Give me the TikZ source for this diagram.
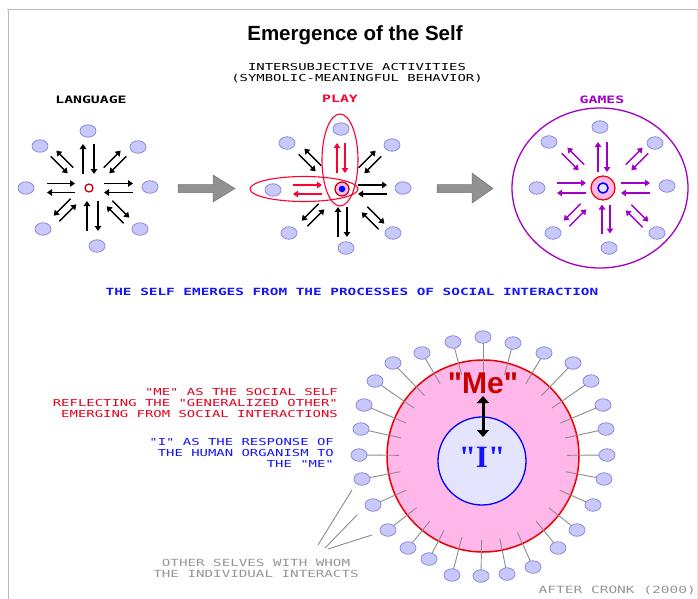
\documentclass[tikz,border=0pt]{standalone}
\usepackage{fontspec}
\setmainfont{Liberation Sans}
\newfontfamily\mefont[Ligatures=TeXOff]{Liberation Sans}
\newfontfamily\pixfont[FakeStretch=1.45,Ligatures=TeXOff]{DejaVu Sans Mono}
\newfontfamily\serifb[Ligatures=TeXOff]{Liberation Serif}
\usetikzlibrary{arrows.meta,calc,shapes.geometric}
\definecolor{satfill}{RGB}{200,200,250}
\definecolor{satdraw}{RGB}{140,140,220}
\definecolor{txtred}{RGB}{230,0,30}
\definecolor{playred}{RGB}{255,0,50}
\definecolor{txtblue}{RGB}{20,20,255}
\definecolor{txtgray}{RGB}{150,150,150}
\definecolor{gamepurple}{RGB}{160,0,200}
\definecolor{pinkfill}{RGB}{255,182,232}
\definecolor{ifill}{RGB}{228,228,255}
\definecolor{mered}{RGB}{200,0,0}
\definecolor{circred}{RGB}{235,0,0}
\definecolor{arrowgray}{RGB}{145,145,145}
\definecolor{linegray}{RGB}{140,140,140}
\tikzset{
  sat/.style={ellipse,minimum width=16pt,minimum height=12.5pt,inner sep=0pt,fill=satfill,draw=satdraw,line width=0.8pt},
  pa/.style={line width=1.6pt,-{Triangle[length=5pt,width=6.5pt]}},
  pd/.style={line width=1.3pt,-{Triangle[length=5pt,width=6.5pt]}},
  pixel/.style={font=\pixfont\fontsize{9.6}{11}\selectfont,align=center,inner sep=0pt},
  pixelb/.style={font=\pixfont\bfseries\fontsize{10.2}{11}\selectfont,align=center,inner sep=0pt},
  satline/.style={linegray,line width=0.9pt},
  bigarrow/.style={fill=arrowgray,draw=arrowgray!80!black,line width=0.5pt}
}
\newcommand\apair[6]{%
  \begin{scope}[shift={(#1,#2)},rotate=#3]
    \draw[#6] (-#4,{-(#5)}) -- (#4,{-(#5)});
    \draw[#6] (#4,{#5}) -- (-#4,{#5});
  \end{scope}}
\begin{document}
\begin{tikzpicture}[x=1pt,y=-1pt]
\useasboundingbox (0,0) rectangle (698,599);
\fill[white] (0,0) rectangle (698,599);
% frame
\draw[gray!55,line width=1.6pt] (7,9.5) -- (697,9.5);
\draw[gray!55,line width=1.6pt] (8.5,9.5) -- (8.5,599);
\draw[gray!20,line width=0.8pt] (697,9.5) -- (697,599);

% titles
\node[font=\bfseries\fontsize{20.5}{22}\selectfont] (title) at (355,35) {Emergence of the Self};
\node[pixel] (inter) at (357,73.5) {INTERSUBJECTIVE ACTIVITIES\\(SYMBOLIC-MEANINGFUL BEHAVIOR)};
\node[pixelb] (lang) at (91,100) {LANGUAGE};
\node[pixelb,text=playred] (play) at (340,99) {PLAY};
\node[pixelb,text=gamepurple] (games) at (602,100) {GAMES};

% ---------- LANGUAGE cluster ----------
\foreach \n/\x/\y in {l1/88/131,l2/40/146,l3/138/147,l4/26/188,l5/150/187,l6/43/229,l7/140/229,l8/97/246}
  \node[sat] (\n) at (\x,\y) {};
\node[circle,draw=mered,fill=white,line width=1.3pt,minimum size=8pt,inner sep=0pt] (lc) at (89,188) {};
\apair{61}{188}{0}{14}{4.5}{pa}
\apair{118.5}{188}{0}{14.5}{4.5}{pa}
\apair{88.5}{159}{90}{15}{5.5}{pa}
\apair{92.5}{216}{90}{15}{5.5}{pa}
\apair{62}{162}{135}{12}{-4}{pd}
\apair{115}{162}{45}{12}{4}{pd}
\apair{65}{210}{45}{12}{-4}{pd}
\apair{118}{212}{135}{12}{4}{pd}

% big arrow 1
\draw[bigarrow] (178,184.5) -- (213,184.5) -- (213,175) -- (235,188.5) -- (213,202) -- (213,192.5) -- (178,192.5) -- cycle;

% ---------- PLAY cluster ----------
\foreach \n/\x/\y in {p1/341/129,p2/287/143,p3/392/145,p4/273/190,p5/403/188,p6/289/233,p7/393/233,p8/346/248}
  \node[sat] (\n) at (\x,\y) {};
\draw[playred,line width=1.1pt] (340,160) ellipse [x radius=18pt,y radius=46pt];
\draw[playred,line width=1.1pt] (304,189) ellipse [x radius=54pt,y radius=12.5pt];
\apair{341}{158}{90}{15}{4}{pa,playred}
\apair{307.5}{189.5}{0}{14.5}{4.5}{pa,playred}
\apair{372.5}{189.5}{0}{14.5}{4.5}{pa}
\apair{342.5}{222}{90}{15}{4.5}{pa}
\apair{310}{160}{135}{12}{-4}{pd}
\apair{370}{162}{45}{12}{4}{pd}
\apair{313}{215}{45}{12}{-4}{pd}
\apair{373}{218}{135}{12}{4}{pd}
\node[circle,draw=red!75!black,fill=pinkfill,line width=1.2pt,minimum size=14pt,inner sep=0pt] (pc) at (342,189) {};
\node[circle,fill=blue,minimum size=6.5pt,inner sep=0pt] (pcin) at (342,189) {};

% big arrow 2
\draw[bigarrow] (437,184.5) -- (472,184.5) -- (472,173) -- (493,188.5) -- (472,203) -- (472,192.5) -- (437,192.5) -- cycle;

% ---------- GAMES cluster ----------
\draw[gamepurple,line width=1.3pt] (600,188) ellipse [x radius=88pt,y radius=80pt];
\foreach \n/\x/\y in {g1/600/127,g2/549/142,g3/655/143,g4/537/188,g5/667/186,g6/553/233,g7/657/233,g8/609/248}
  \node[sat] (\n) at (\x,\y) {};
\apair{602.5}{157}{90}{15}{4.5}{pa,gamepurple}
\apair{571.5}{188}{0}{14.5}{5}{pa,gamepurple}
\apair{635.5}{188}{0}{14.5}{5}{pa,gamepurple}
\apair{606}{219}{90}{14.5}{4}{pa,gamepurple}
\apair{573}{159}{135}{12}{-4}{pd,gamepurple}
\apair{637}{159}{45}{12}{4}{pd,gamepurple}
\apair{575}{215}{45}{12}{-4}{pd,gamepurple}
\apair{637}{216}{135}{12}{4}{pd,gamepurple}
\node[circle,draw=circred,fill=pinkfill,line width=1.2pt,minimum size=24pt,inner sep=0pt] (gc) at (603,188) {};
\node[circle,draw=blue,fill=ifill,line width=1.5pt,minimum size=10pt,inner sep=0pt] (gcin) at (603,188) {};

% middle text
\node[pixelb,text=txtblue,font=\pixfont\bfseries\fontsize{9.9}{11}\selectfont] (mid) at (352,292) {THE SELF EMERGES FROM THE PROCESSES OF SOCIAL INTERACTION};

% ---------- bottom ----------
\node[circle,draw=circred,fill=pinkfill,line width=1.5pt,minimum size=192pt,inner sep=0pt] (me) at (483,456) {};
\foreach \x/\y [count=\i] in {453/342,483/337,513/343,422/353,544/353,393/363,573/363,375/381,591/381,364/405,603/405,361/429,606/429,359/455,607/455,362/479,604/479,373/505,593/505,388/530,577/530,408/548,558/548,429/559,533/567,452/575,481/576,507/574}
{
  \coordinate (b\i) at (\x,\y);
  \draw[satline] (b\i) -- ($(me.center)!84pt!(b\i)$);
}
\foreach \i in {1,...,28} \node[sat] (s\i) at (b\i) {};
\node[circle,draw=blue,fill=ifill,line width=1.3pt,minimum size=88pt,inner sep=0pt] (icirc) at (482,461) {};
\node[font=\mefont\bfseries\fontsize{30}{30}\selectfont,text=mered,inner sep=0pt] (metext) at (483,383) {"Me"};
\node[font=\serifb\bfseries\fontsize{31}{31}\selectfont,text=txtblue,inner sep=0pt] (itext) at (482,457) {"I"};
\coordinate (da1) at (483,396);
\coordinate (da2) at (483,437);
\draw[line width=3pt,{Triangle[length=7pt,width=12pt]}-{Triangle[length=7pt,width=12pt]}] (da1) -- (da2);

% left texts
\node[pixel,text=txtred,anchor=east,align=right] (metxt) at (338,403) {"ME" AS THE SOCIAL SELF\\REFLECTING THE "GENERALIZED OTHER"\\EMERGING FROM SOCIAL INTERACTIONS};
\node[pixel,text=txtblue,anchor=east,align=right] (itxt) at (334,453) {"I" AS THE RESPONSE OF\\THE HUMAN ORGANISM TO\\THE "ME"};

% other selves
\node[pixel,text=txtgray,font=\pixfont\fontsize{9.8}{11}\selectfont] (others) at (256,568.5) {OTHER SELVES WITH WHOM\\THE INDIVIDUAL INTERACTS};
\coordinate (o1) at (318,545);
\coordinate (o2) at (325,548);
\coordinate (o3) at (328,549);
\coordinate (t1) at (352,490);
\coordinate (t2) at (357,515);
\coordinate (t3) at (372,535);
\draw[linegray,line width=0.9pt] (o1) -- (t1);
\draw[linegray,line width=0.9pt] (o2) -- (t2);
\draw[linegray,line width=0.9pt] (o3) -- (t3);

\node[pixel,text=txtgray,font=\pixfont\fontsize{10}{11}\selectfont,anchor=east] (cronk) at (696,590) {AFTER CRONK (2000)};
\end{tikzpicture}
\end{document}
